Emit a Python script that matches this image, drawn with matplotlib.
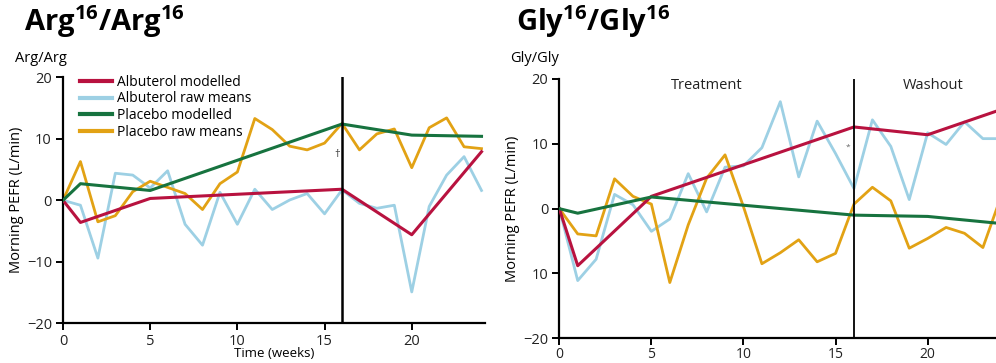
import matplotlib
matplotlib.use("Agg")
import matplotlib.pyplot as plt

plt.rcParams['font.family'] = ['Open Sans', 'DejaVu Sans']
plt.rcParams['mathtext.fontset'] = 'custom'
plt.rcParams['mathtext.bf'] = 'Open Sans:bold'
plt.rcParams['mathtext.rm'] = 'Open Sans'

# ---------------- data ----------------
weeks = list(range(25))
knot_weeks = [0, 1, 5, 16, 20, 24]

# Arg16/Arg16
arg_alb_model = [0, -3.6, 0.3, 1.8, -5.6, 7.9]
arg_pla_model = [0, 2.7, 1.6, 12.4, 10.6, 10.4]
arg_alb_raw = [0, -0.8, -9.4, 4.4, 4.1, 2.0, 4.8, -3.9, -7.3, 1.3, -3.9, 1.8, -1.5,
               0.05, 1.1, -2.2, 1.7, -0.5, -1.3, -0.8, -14.9, -1.0, 4.1, 7.1, 1.6]
arg_pla_raw = [0, 6.3, -3.5, -2.5, 1.4, 3.1, 2.1, 1.1, -1.5, 2.7, 4.6, 13.3, 11.5,
               8.8, 8.2, 9.3, 12.5, 8.2, 10.8, 11.6, 5.3, 11.8, 13.4, 8.7, 8.4]

# Gly16/Gly16
gly_alb_model = [0, -8.8, 1.9, 12.6, 11.4, 15.3]
gly_pla_model = [0, -0.7, 1.8, -1.0, -1.2, -2.3]
gly_alb_raw = [0, -11.1, -7.8, 2.2, 0.6, -3.5, -1.6, 5.4, -0.5, 6.4, 6.6, 9.4, 16.5,
               4.9, 13.5, 8.5, 3.1, 13.7, 9.6, 1.4, 11.7, 9.9, 13.4, 10.8, 10.8]
gly_pla_raw = [0, -3.9, -4.2, 4.6, 1.9, 0.7, -11.4, -2.5, 4.7, 8.3, 0.3, -8.5, -6.8,
               -4.8, -8.2, -6.9, 0.7, 3.3, 1.2, -6.1, -4.6, -2.9, -3.8, -6.0, 2.0]

series_labels = ["Albuterol modelled", "Albuterol raw means",
                 "Placebo modelled", "Placebo raw means"]
yticks = [-20, -10, 0, 10, 20]
left_yticklabels = ["\u221220", "\u221210", "0", "10", "20"]
right_yticklabels = ["\u221220", "10", "0", "10", "20"]
xticks = [0, 5, 10, 15, 20]
switch_week = 16

C_RED = "#b8123f"
C_BLUE = "#9dd0e4"
C_GREEN = "#17733f"
C_ORANGE = "#e2a214"

fig = plt.figure(figsize=(9.96, 3.63), dpi=100)

axL = fig.add_axes([63/996, (363-323.3)/363, 422/996, 246/363])
axR = fig.add_axes([559.3/996, (363-338.3)/363, 445.7/996, 259.3/363])


def draw(ax, am, pm, ar, pr, vlw):
    ax.plot(weeks, ar, color=C_BLUE, lw=2.0, label=series_labels[1], zorder=2)
    ax.plot(weeks, pr, color=C_ORANGE, lw=2.0, label=series_labels[3], zorder=2)
    ax.plot(knot_weeks, am, color=C_RED, lw=2.2, label=series_labels[0], zorder=3)
    ax.plot(knot_weeks, pm, color=C_GREEN, lw=2.2, label=series_labels[2], zorder=3)
    ax.axvline(switch_week, color="black", lw=vlw, zorder=4)
    ax.set_xlim(0, 24.2)
    ax.set_ylim(-20, 20)
    ax.set_xticks(xticks)
    ax.set_yticks(yticks)
    for s in ["top", "right"]:
        ax.spines[s].set_visible(False)
    for s in ["left", "bottom"]:
        ax.spines[s].set_linewidth(1.6)
    ax.tick_params(direction="out", length=5, width=1.4, labelsize=10.5, pad=3,
                   colors="black", labelcolor="#222222")
    ax.set_ylabel("Morning PEFR (L/min)", fontsize=10.5, labelpad=2)


draw(axL, arg_alb_model, arg_pla_model, arg_alb_raw, arg_pla_raw, 1.8)
draw(axR, gly_alb_model, gly_pla_model, gly_alb_raw, gly_pla_raw, 1.3)
axL.tick_params(axis="x", pad=3)
axR.tick_params(axis="x", pad=1.5, labelsize=10)
axL.set_yticklabels(left_yticklabels)
axR.set_yticklabels(right_yticklabels)
axL.set_xlabel("Time (weeks)", fontsize=9.5, labelpad=-1.5)

h, l = axL.get_legend_handles_labels()
hd = dict(zip(l, h))
leg = axL.legend([hd[s] for s in series_labels], series_labels, loc="upper left",
                 bbox_to_anchor=(0.02, 1.045), frameon=False, fontsize=10,
                 handlelength=2.3, handletextpad=0.35, labelspacing=0.13,
                 borderaxespad=0.2)
for line in leg.get_lines():
    line.set_linewidth(3)

axL.text(15.7, 7.4, "\u2020", fontsize=8, ha="center", va="center", color="#333333")
axR.text(15.7, 9.4, "*", fontsize=6, ha="center", va="center", color="#666666")
axR.text(8.0, 19.0, "Treatment", fontsize=10.5, ha="center", va="center", color="#222222")
axR.text(20.3, 19.0, "Washout", fontsize=10.5, ha="center", va="center", color="#222222")

fig.text(24/996, 1 - 22/363, r"$\mathbf{Arg^{16}/Arg^{16}}$", fontsize=21,
         ha="left", va="center")
fig.text(516/996, 1 - 22/363, r"$\mathbf{Gly^{16}/Gly^{16}}$", fontsize=21,
         ha="left", va="center")
fig.text(15/996, 1 - 58/363, "Arg/Arg", fontsize=10.5, ha="left", va="center")
fig.text(510/996, 1 - 58/363, "Gly/Gly", fontsize=10.5, ha="left", va="center")

fig.savefig("out.png", dpi=100)
